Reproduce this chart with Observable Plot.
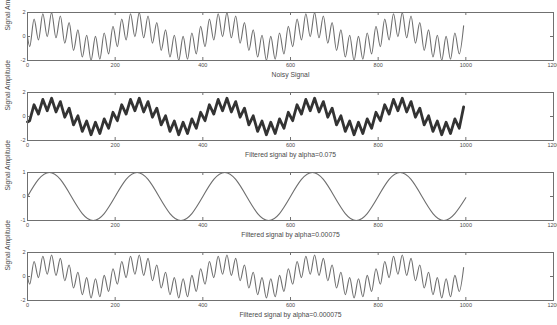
<!DOCTYPE html>
<html><head><meta charset="utf-8">
<script src="https://cdn.jsdelivr.net/npm/d3@7"></script>
<script src="https://cdn.jsdelivr.net/npm/@observablehq/plot@0.6"></script>
<style>
html,body{margin:0;padding:0;background:#fff;}
#chart{width:557px;height:325px;overflow:hidden;background:#fff;}
#chart svg{display:block;}
</style></head><body><div id="chart"></div>
<script>
const xTicks = [0, 200, 400, 600, 800, 1000, 1200];
const yTicksWide = [-2, 0, 2];
const yTicksUnit = [-1, 0, 1];
const titles = ["Noisy Signal", "Filtered signal by alpha=0.075", "Filtered signal by alpha=0.00075", "Filtered signal by alpha=0.000075"];
const yLabel = "Signal Amplitude";

// sample positions of the fast oscillation's turning points (plus the start)
const sampleX = [0,
  5,15,25,35,45,55,65,75,85,95,105,115,125,135,145,155,165,175,185,195,
  205,215,225,235,245,255,265,275,285,295,305,315,325,335,345,355,365,375,385,395,
  405,415,425,435,445,455,465,475,485,495,505,515,525,535,545,555,565,575,585,595,
  605,615,625,635,645,655,665,675,685,695,705,715,725,735,745,755,765,775,785,795,
  805,815,825,835,845,855,865,875,885,895,905,915,925,935,945,955,965,975,985,995];

const noisy = [0,
  -0.84,1.45,-0.29,1.89,-0.01,1.99,-0.11,1.71,-0.55,1.16,-1.16,0.55,-1.71,0.11,-1.99,0.01,-1.89,0.29,-1.45,0.84,
  -0.84,1.45,-0.29,1.89,-0.01,1.99,-0.11,1.71,-0.55,1.16,-1.16,0.55,-1.71,0.11,-1.99,0.01,-1.89,0.29,-1.45,0.84,
  -0.84,1.45,-0.29,1.89,-0.01,1.99,-0.11,1.71,-0.55,1.16,-1.16,0.55,-1.71,0.11,-1.99,0.01,-1.89,0.29,-1.45,0.84,
  -0.84,1.45,-0.29,1.89,-0.01,1.99,-0.11,1.71,-0.55,1.16,-1.16,0.55,-1.71,0.11,-1.99,0.01,-1.89,0.29,-1.45,0.84,
  -0.84,1.45,-0.29,1.89,-0.01,1.99,-0.11,1.71,-0.55,1.16,-1.16,0.55,-1.71,0.11,-1.99,0.01,-1.89,0.29,-1.45,0.90];

const filtered075 = [-0.45,
  -0.35,0.98,0.20,1.42,0.48,1.52,0.38,1.24,-0.06,0.69,-0.69,0.06,-1.24,-0.38,-1.52,-0.48,-1.42,-0.20,-0.98,0.35,
  -0.35,0.98,0.20,1.42,0.48,1.52,0.38,1.24,-0.06,0.69,-0.69,0.06,-1.24,-0.38,-1.52,-0.48,-1.42,-0.20,-0.98,0.35,
  -0.35,0.98,0.20,1.42,0.48,1.52,0.38,1.24,-0.06,0.69,-0.69,0.06,-1.24,-0.38,-1.52,-0.48,-1.42,-0.20,-0.98,0.35,
  -0.35,0.98,0.20,1.42,0.48,1.52,0.38,1.24,-0.06,0.69,-0.69,0.06,-1.24,-0.38,-1.52,-0.48,-1.42,-0.20,-0.98,0.35,
  -0.35,0.98,0.20,1.42,0.48,1.52,0.38,1.24,-0.06,0.69,-0.69,0.06,-1.24,-0.38,-1.52,-0.48,-1.42,-0.20,-0.98,0.80];

const filtered000075 = [0,
  -0.64,1.25,-0.09,1.69,0.19,1.79,0.09,1.51,-0.35,0.96,-0.96,0.35,-1.51,-0.09,-1.79,-0.19,-1.69,0.09,-1.25,0.64,
  -0.64,1.25,-0.09,1.69,0.19,1.79,0.09,1.51,-0.35,0.96,-0.96,0.35,-1.51,-0.09,-1.79,-0.19,-1.69,0.09,-1.25,0.64,
  -0.64,1.25,-0.09,1.69,0.19,1.79,0.09,1.51,-0.35,0.96,-0.96,0.35,-1.51,-0.09,-1.79,-0.19,-1.69,0.09,-1.25,0.64,
  -0.64,1.25,-0.09,1.69,0.19,1.79,0.09,1.51,-0.35,0.96,-0.96,0.35,-1.51,-0.09,-1.79,-0.19,-1.69,0.09,-1.25,0.64,
  -0.64,1.25,-0.09,1.69,0.19,1.79,0.09,1.51,-0.35,0.96,-0.96,0.35,-1.51,-0.09,-1.79,-0.19,-1.69,0.09,-1.25,0.75];

// smooth filtered signal, read every 25 samples
const sineX = [0,25,50,75,100,125,150,175,200,225,250,275,300,325,350,375,400,425,450,475,500,
  525,550,575,600,625,650,675,700,725,750,775,800,825,850,875,900,925,950,975,1000];
const filtered00075 = [0,0.71,1,0.71,0,-0.71,-1,-0.71,
  0,0.71,1,0.71,0,-0.71,-1,-0.71,
  0,0.71,1,0.71,0,-0.71,-1,-0.71,
  0,0.71,1,0.71,0,-0.71,-1,-0.71,
  0,0.71,1,0.71,0,-0.71,-1,-0.71,-0.05];

const panels = [
  {title: titles[0], xs: sampleX, ys: noisy, domain: [-2, 2], ticks: yTicksWide, curve: "monotone-x", stroke: "#6e6e6e", width: 1.1},
  {title: titles[1], xs: sampleX, ys: filtered075, domain: [-2, 2], ticks: yTicksWide, curve: "linear", stroke: "#333333", width: 2.8},
  {title: titles[2], xs: sineX, ys: filtered00075, domain: [-1, 1], ticks: yTicksUnit, curve: "natural", stroke: "#6e6e6e", width: 1.1},
  {title: titles[3], xs: sampleX, ys: filtered000075, domain: [-2, 2], ticks: yTicksWide, curve: "monotone-x", stroke: "#6e6e6e", width: 1.1}
];

const W = 557, H = 80, mT = 12, mB = 20, mL = 27, mR = 4;
const fw = W - mL - mR, fh = H - mT - mB;
const axisColor = "#707070";
const textColor = "#4a4a4a";

const root = document.getElementById("chart");
for (const p of panels) {
  const rows = p.xs.map((x, i) => ({x, y: p.ys[i]}));
  const chart = Plot.plot({
    width: W, height: H,
    marginTop: mT, marginBottom: mB, marginLeft: mL, marginRight: mR,
    style: {fontFamily: "'Liberation Sans', Arial, sans-serif", fontSize: "5.5px", color: textColor, background: "#fff", overflow: "visible"},
    x: {domain: [0, 1200], label: null},
    y: {domain: p.domain, label: null},
    marks: [
      Plot.line(rows, {x: "x", y: "y", curve: p.curve, stroke: p.stroke, strokeWidth: p.width, strokeLinejoin: "round"}),
      Plot.frame({stroke: axisColor, strokeWidth: 1}),
      Plot.tickX(xTicks, {x: d => d, insetTop: fh - 3, stroke: axisColor}),
      Plot.tickX(xTicks, {x: d => d, insetBottom: fh - 3, stroke: axisColor}),
      Plot.tickY(p.ticks, {y: d => d, insetRight: fw - 3, stroke: axisColor}),
      Plot.tickY(p.ticks, {y: d => d, insetLeft: fw - 3, stroke: axisColor}),
      Plot.axisX(xTicks, {tickSize: 0, tickPadding: 3, label: null, fill: textColor, tickFormat: d => String(d)}),
      Plot.axisY(p.ticks, {tickSize: 0, tickPadding: 2, label: null, fill: textColor, tickFormat: d => String(d)}),
      Plot.text([p.title], {text: d => d, frameAnchor: "bottom", dy: 16, fontSize: 6.8, fill: textColor}),
      Plot.text([yLabel], {text: d => d, frameAnchor: "left", rotate: -90, dx: -20, dy: -6, fontSize: 6.8, fill: textColor})
    ]
  });
  root.appendChild(chart);
}
</script>
</body></html>
